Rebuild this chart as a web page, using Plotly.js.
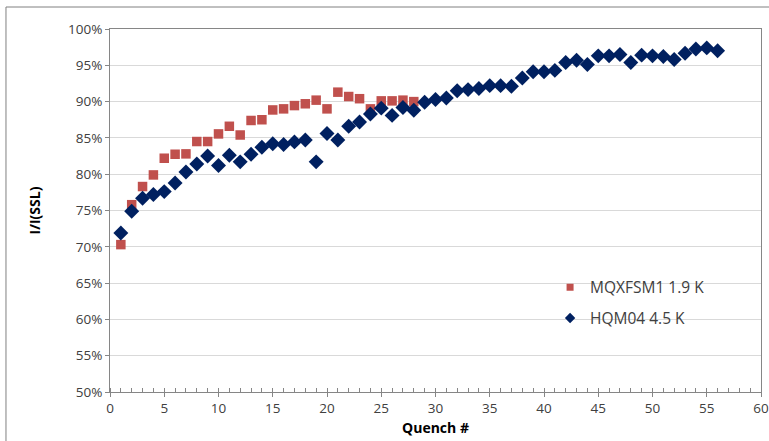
<!DOCTYPE html>
<html>
<head>
<meta charset="utf-8">
<script src="https://cdn.plot.ly/plotly-3.0.1.min.js"></script>
<style>
html,body{margin:0;padding:0;background:#fff;}
#chart{width:769px;height:441px;}
</style>
</head>
<body>
<div id="chart"></div>
<script>
// Quench numbers
const quenchMQXF = [1,2,3,4,5,6,7,8,9,10,11,12,13,14,15,16,17,18,19,20,21,22,23,24,25,26,27,28];
const valuesMQXF = [70.3,75.8,78.3,79.9,82.2,82.75,82.8,84.5,84.5,85.55,86.6,85.4,87.4,87.5,88.85,89.0,89.45,89.7,90.2,89.0,91.3,90.7,90.4,89.0,90.1,90.1,90.2,90.0];

const quenchHQM = [1,2,3,4,5,6,7,8,9,10,11,12,13,14,15,16,17,18,19,20,21,22,23,24,25,26,27,28,29,30,31,32,33,34,35,36,37,38,39,40,41,42,43,44,45,46,47,48,49,50,51,52,53,54,55,56];
const valuesHQM = [71.9,74.9,76.7,77.2,77.6,78.8,80.3,81.4,82.5,81.2,82.6,81.7,82.75,83.7,84.2,84.1,84.45,84.7,81.7,85.6,84.7,86.6,87.2,88.3,89.1,88.1,89.2,88.8,89.9,90.3,90.5,91.5,91.65,91.8,92.2,92.2,92.1,93.25,94.1,94.1,94.3,95.4,95.7,95.1,96.3,96.3,96.5,95.4,96.4,96.3,96.2,95.8,96.65,97.25,97.4,97.0];

const seriesNames = ['MQXFSM1 1.9 K', 'HQM04 4.5 K'];
const xTickVals = [0,5,10,15,20,25,30,35,40,45,50,55,60];
const yTickVals = [50,55,60,65,70,75,80,85,90,95,100];
const yTickText = yTickVals.map(v => v + '%');

const FONT = '"Open Sans", "Noto Sans", sans-serif';
const RED = '#C0504D', BLUE = '#002060';

const traces = [
  {
    x: quenchMQXF, y: valuesMQXF, name: seriesNames[0],
    type: 'scatter', mode: 'markers', showlegend: false,
    marker: {symbol: 'square', size: 9.5, color: RED}
  },
  {
    x: quenchHQM, y: valuesHQM, name: seriesNames[1],
    type: 'scatter', mode: 'markers', showlegend: false,
    marker: {symbol: 'diamond', size: 11.5, color: BLUE}
  },
  // legend entries (smaller legend symbols, as in the reference)
  {
    x: [null], y: [null], name: seriesNames[0],
    type: 'scatter', mode: 'markers',
    marker: {symbol: 'square', size: 7, color: RED},
    legend: 'legend'
  },
  {
    x: [null], y: [null], name: seriesNames[1],
    type: 'scatter', mode: 'markers',
    marker: {symbol: 'diamond', size: 8, color: BLUE},
    legend: 'legend2'
  }
];

const layout = {
  width: 769, height: 441,
  margin: {l: 110, r: 8, t: 29, b: 49},
  paper_bgcolor: '#ffffff', plot_bgcolor: '#ffffff',
  font: {family: FONT, size: 12, color: '#404040'},
  showlegend: true,
  legend: {
    x: 0.676, y: 0.2875, xanchor: 'left', yanchor: 'middle',
    bgcolor: 'rgba(0,0,0,0)', font: {family: FONT, size: 15.5, color: '#404040'},
    itemwidth: 30
  },
  legend2: {
    x: 0.676, y: 0.2025, xanchor: 'left', yanchor: 'middle',
    bgcolor: 'rgba(0,0,0,0)', font: {family: FONT, size: 15.5, color: '#404040'},
    itemwidth: 30
  },
  xaxis: {
    range: [0, 60], tickvals: xTickVals, ticktext: xTickVals.map(String),
    ticks: 'outside', ticklen: 4, tickcolor: '#868686',
    minor: {dtick: 1, ticks: 'inside', ticklen: 4, tickcolor: '#868686', showgrid: false},
    showline: true, linecolor: '#868686', linewidth: 1, mirror: true,
    showgrid: false, zeroline: false,
    tickfont: {family: FONT, size: 13.5, color: '#404040'},
    title: {text: '<b>Quench #</b>', font: {family: FONT, size: 14, color: '#000'}, standoff: 6}
  },
  yaxis: {
    range: [50, 100], tickvals: yTickVals, ticktext: yTickText,
    ticks: 'outside', ticklen: 4, tickcolor: '#868686',
    showline: true, linecolor: '#868686', linewidth: 1, mirror: true,
    showgrid: true, gridcolor: '#D9D9D9', gridwidth: 1, zeroline: false,
    tickfont: {family: FONT, size: 13.5, color: '#404040'},
    title: {text: '<b>I/I(SSL)</b>', font: {family: FONT, size: 14, color: '#000'}, standoff: 24}
  },
  shapes: [
    {type: 'rect', xref: 'paper', yref: 'paper',
     x0: -0.1598, x1: 1.03, y0: -0.2, y1: 1.0606,
     line: {color: '#808080', width: 1}, fillcolor: 'rgba(0,0,0,0)', layer: 'below'}
  ]
};

Plotly.newPlot('chart', traces, layout, {displayModeBar: false, staticPlot: true});
</script>
</body>
</html>
